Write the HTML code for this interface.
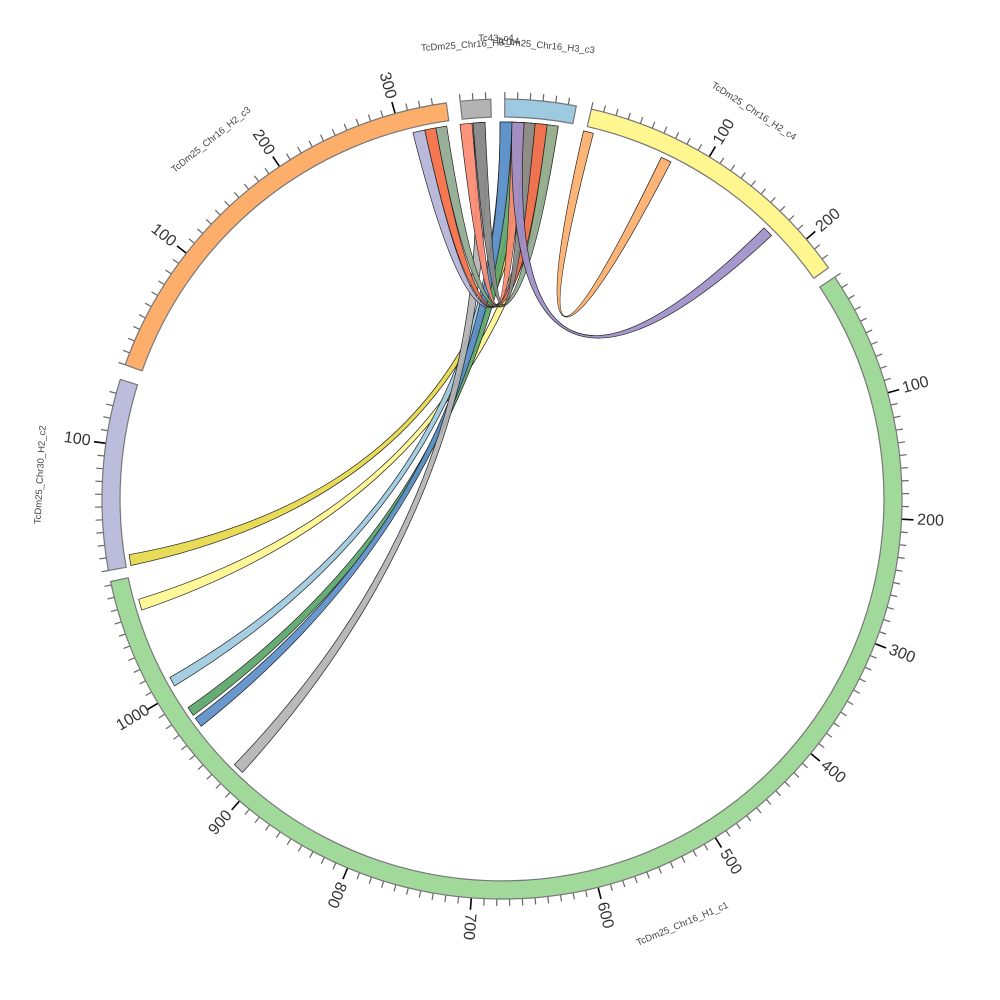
<!DOCTYPE html>
<html><head><meta charset="utf-8"><style>
html,body{margin:0;padding:0;background:#fff;}
svg{display:block;}
text{font-family:"Liberation Sans","DejaVu Sans",sans-serif;}
</style></head><body>
<svg id="s" width="1000" height="1000" viewBox="0 0 1000 1000" xmlns="http://www.w3.org/2000/svg"></svg>
<script>
var cx=502,cy=499,RO=400,RI=382,RR=377,deg=0.183;
var s=document.getElementById('s'),out='';
function P(r,a){var t=a*Math.PI/180;return [cx+r*Math.sin(t),cy-r*Math.cos(t)];}
function f(p){return p[0].toFixed(1)+' '+p[1].toFixed(1);}
function ang(x,y){var a=Math.atan2(x-cx,-(y-cy))*180/Math.PI;if(a<0)a+=360;return a;}
var segs=[
 {a1:12.9,a2:54.7,c:'#fff68f',start:12.9},
 {a1:56.3,a2:258.1,c:'#a1d99b',start:56.3},
 {a1:259.7,a2:287.4,c:'#bcbddc',start:259.7},
 {a1:289.6,a2:352.0,c:'#fdae6b',start:289.6},
 {a1:354.0,a2:358.4,c:'#b3b3b3',start:354.0},
 {a1:360.4,a2:370.7,c:'#9ecae1',start:360.4}
];
segs.forEach(function(g){
  var n=Math.floor((g.a2-g.start)/deg/10);
  for(var i=0;i<=n;i++){var v=i*10,a=g.start+v*deg;if(a>g.a2-0.3)break;
    var maj=(v%100==0&&v>0&&v<1050);
    var p1=P(RO,a),p2=P(RO+(maj?12:7),a);
    out+='<line x1="'+p1[0].toFixed(1)+'" y1="'+p1[1].toFixed(1)+'" x2="'+p2[0].toFixed(1)+'" y2="'+p2[1].toFixed(1)+'" stroke="'+(maj?'#000':'#666')+'" stroke-width="'+(maj?1.6:1.2)+'"/>';
    if(maj){var q=P(RO+29,a),rot=a-90;var aa=((a%360)+360)%360;if(aa>210)rot+=180;
      out+='<text x="'+q[0].toFixed(1)+'" y="'+q[1].toFixed(1)+'" font-size="16" fill="#333" text-anchor="middle" dominant-baseline="central" transform="rotate('+rot.toFixed(1)+' '+q[0].toFixed(1)+' '+q[1].toFixed(1)+')">'+v+'</text>';}
  }
});
segs.forEach(function(g){
  var L=(g.a2-g.a1)>180?1:0;
  out+='<path d="M'+f(P(RO,g.a1))+' A'+RO+' '+RO+' 0 '+L+' 1 '+f(P(RO,g.a2))+' L'+f(P(RI,g.a2))+' A'+RI+' '+RI+' 0 '+L+' 0 '+f(P(RI,g.a1))+' Z" fill="'+g.c+'" stroke="#777" stroke-width="1.2"/>';
});
var labs=[['TcDm25_Chr16_H2_c4',33,462],['TcDm25_Chr16_H1_c1',157,462],['TcDm25_Chr30_H2_c2',273,462],['TcDm25_Chr16_H2_c3',321,462],['TcDm25_Chr16_H3_c4',356,455],['TcDm25_Chr16_H3_c3',5.5,455]];
labs.forEach(function(l){var q=P(l[2],l[1]),rot=l[1];if(rot>90&&rot<270)rot-=180;if(rot>=270)rot-=360;
 out+='<text x="'+q[0].toFixed(1)+'" y="'+q[1].toFixed(1)+'" font-size="9.5" fill="#444" text-anchor="middle" dominant-baseline="central" transform="rotate('+rot.toFixed(1)+' '+q[0].toFixed(1)+' '+q[1].toFixed(1)+')">'+l[0]+'</text>';});
out+='<text x="496" y="41" font-size="9.5" fill="#444" text-anchor="middle">Tc43_c4</text>';
function rib(a,b,c){
  var a1=ang(a[0],a[1]),a2=ang(a[2],a[3]),b1=ang(b[0],b[1]),b2=ang(b[2],b[3]);
  function fix(x,y){if(y-x>180)y-=360;if(x-y>180)y+=360;return y;}
  a2=fix(a1,a2);b2=fix(b1,b2);
  if(a2<a1){var t=a1;a1=a2;a2=t;} if(b2<b1){t=b1;b1=b2;b2=t;}
  var C=cx+' '+(cy-12);
  return '<path d="M'+f(P(RR,a1))+' A'+RR+' '+RR+' 0 0 1 '+f(P(RR,a2))+' Q'+C+' '+f(P(RR,b1))+' A'+RR+' '+RR+' 0 0 1 '+f(P(RR,b2))+' Q'+C+' '+f(P(RR,a1))+' Z" fill="'+c+'" fill-opacity="0.92" stroke="#222" stroke-width="0.7"/>';
}
var R=[
 [[128,566,127,555],[524,124,535,125],'#e6d84a'],
 [[139,611,136,600],[547,126,558,128],'#fff68f'],
 [[171,688,167,679],[500,123,512,123],'#9ecae1'],
 [[191,717,186,709],[512,123,524,124],'#5aa469'],
 [[199,728,193,720],[500,123,512,123],'#5b8fc9'],
 [[241,774,233,766],[473,123,485,123],'#b3b3b3'],
 [[413,133,425,131],[535,125,547,126],'#b3b3d9'],
 [[425,131,436,129],[535,125,547,126],'#f46d43'],
 [[436,129,447,128],[547,126,558,128],'#8fa98f'],
 [[460,124,472,123],[512,123,524,124],'#fb8a72'],
 [[473,123,485,123],[524,124,535,125],'#888888'],
 [[583,133,593,135],[660,160,670,164],'#fdae6b'],
 [[760,232,768,239],[512,123,524,124],'#9e8fc8']
];
R.forEach(function(r){out+=rib(r[0],r[1],r[2]);});
s.innerHTML=out;
</script>
</body></html>
